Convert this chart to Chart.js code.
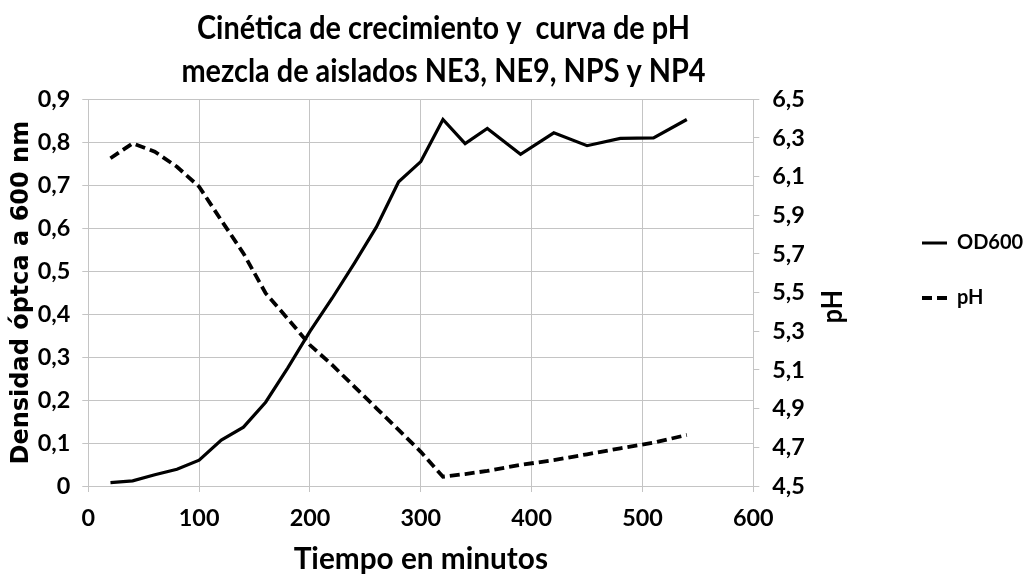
<!DOCTYPE html>
<html>
<head>
<meta charset="utf-8">
<script src="https://cdn.jsdelivr.net/npm/chart.js@4.4.1/dist/chart.umd.min.js"></script>
<style>
  html, body { margin: 0; padding: 0; background: #fff; }
  #wrap { position: relative; width: 1023px; height: 577px; }
</style>
</head>
<body>
<div id="wrap"><canvas id="c"></canvas></div>
<script>
// ---- data ----
const titleLines = ['Cinética de crecimiento y  curva de pH', 'mezcla de aislados NE3, NE9, NPS y NP4'];
const xAxisTitle = 'Tiempo en minutos';
const yAxisTitle = 'Densidad óptca a 600 nm';
const y1AxisTitle = 'pH';
const seriesNames = ['OD600', 'pH'];
const timeMin = [20, 40, 60, 80, 100, 120, 140, 160, 180, 200, 220, 240, 260, 280, 300, 320, 340, 360, 390, 420, 450, 480, 510, 540];
const od600 = [0.008, 0.012, 0.026, 0.039, 0.06, 0.107, 0.137, 0.195, 0.275, 0.36, 0.437, 0.518, 0.603, 0.708, 0.755, 0.853, 0.797, 0.832, 0.772, 0.822, 0.792, 0.809, 0.81, 0.853];
const phValues = [6.195, 6.272, 6.229, 6.151, 6.048, 5.874, 5.703, 5.497, 5.365, 5.229, 5.126, 5.014, 4.902, 4.79, 4.677, 4.548, 4.562, 4.578, 4.609, 4.634, 4.664, 4.695, 4.724, 4.764];
const xTicks = { min: 0, max: 600, step: 100 };
const yTicks = { min: 0, max: 0.9, step: 0.1 };
const y1Ticks = { min: 4.5, max: 6.5, step: 0.2 };

// ---- styling ----
const FONT = "Lato, 'Liberation Sans', sans-serif";
const WIDE = "'DejaVu Sans', 'Liberation Sans', sans-serif";
const GRID = '#c4c4c4';
const CHART_RIGHT = 753.3;
const LEGEND_X = 922;
const CAP = 0.7165; // Lato cap-height ratio

const mctx = document.createElement('canvas').getContext('2d');
function textW(text, family, size) {
  mctx.font = 'bold ' + size + 'px ' + family;
  return mctx.measureText(text).width;
}
// blend between matching the reference width and the reference cap height
function fitSize(text, targetW, targetCap, wHeight) {
  const sW = 100 * targetW / textW(text, FONT, 100);
  const sH = targetCap / CAP;
  return Math.pow(sW, 1 - wHeight) * Math.pow(sH, wHeight);
}
const tickPx = (fitSize('600', 32, 17.5, 0.85) + fitSize('0,9', 29.5, 17, 0.85)) / 2;
const xTitlePx = fitSize(xAxisTitle, 213, 23, 0.7);
const legendPx = 20;
const legendPad = 55 - legendPx;

const comma = (v, keepZero) => (v === 0 && !keepZero) ? '0' : v.toFixed(1).replace('.', ',');

const textPlugin = {
  id: 'textPlugin',
  afterDraw(chart) {
    const ctx = chart.ctx;
    ctx.save();
    ctx.fillStyle = '#000';
    ctx.textAlign = 'center';
    ctx.textBaseline = 'alphabetic';
    const tPx = 32;
    ctx.font = 'bold ' + tPx + 'px ' + FONT;
    const sx = 493 / ctx.measureText(titleLines[0]).width;
    [[titleLines[0], 38.5], [titleLines[1], 81.5]].forEach(([t, y]) => {
      ctx.save();
      ctx.translate(443.5, y);
      ctx.scale(sx, 1);
      ctx.fillText(t, 0, 0);
      ctx.restore();
    });
    const s = chart.scales.y1;
    const pPx = 29;
    ctx.font = 'bold ' + pPx + 'px ' + FONT;
    const pl = 33 / ctx.measureText(y1AxisTitle).width;
    ctx.translate(s.left + 79, (chart.chartArea.top + chart.chartArea.bottom) / 2 + 14);
    ctx.rotate(-Math.PI / 2);
    ctx.scale(pl, 1);
    ctx.textBaseline = 'middle';
    ctx.fillText(y1AxisTitle, 0, 0);
    ctx.restore();
  }
};

new Chart(document.getElementById('c'), {
  type: 'line',
  data: {
    datasets: [
      {
        label: seriesNames[0],
        data: timeMin.map((t, i) => ({ x: t, y: od600[i] })),
        yAxisID: 'y',
        borderColor: '#000',
        backgroundColor: '#000',
        borderWidth: 3.2,
        pointRadius: 0,
        tension: 0,
        fill: false
      },
      {
        label: seriesNames[1],
        data: timeMin.map((t, i) => ({ x: t, y: phValues[i] })),
        yAxisID: 'y1',
        borderColor: '#000',
        backgroundColor: '#000',
        borderWidth: 3.8,
        borderDash: [10, 5],
        pointRadius: 0,
        tension: 0,
        fill: false
      }
    ]
  },
  options: {
    responsive: true,
    maintainAspectRatio: false,
    animation: false,
    layout: { padding: { top: 99.3, left: 0, right: 0, bottom: 0 } },
    plugins: {
      title: { display: false },
      tooltip: { enabled: false },
      legend: {
        display: true,
        position: 'right',
        align: 'start',
        maxWidth: 1023 - LEGEND_X + legendPad,
        title: { display: true, text: '', padding: { top: 129.3 - legendPad - legendPx / 2, bottom: 0 } },
        labels: {
          usePointStyle: true,
          pointStyle: 'line',
          pointStyleWidth: 25,
          padding: legendPad,
          color: '#000',
          font: { family: FONT, size: legendPx, weight: 'bold' },
          generateLabels: chart => {
            const items = Chart.defaults.plugins.legend.labels.generateLabels(chart);
            items.forEach(it => {
              const ds = chart.data.datasets[it.datasetIndex];
              it.lineDash = ds.borderDash || [];
              it.lineWidth = ds.borderWidth;
              it.strokeStyle = ds.borderColor;
            });
            return items;
          }
        }
      }
    },
    scales: {
      x: {
        type: 'linear',
        position: 'bottom',
        min: xTicks.min,
        max: xTicks.max,
        afterFit: s => { s.height = 91; },
        ticks: {
          stepSize: xTicks.step,
          color: '#000',
          padding: 26 - 0.6 * tickPx,
          font: { family: FONT, size: tickPx, weight: 'bold' }
        },
        grid: { color: GRID, lineWidth: 1, tickLength: 6, drawTicks: true },
        border: { display: false },
        title: {
          display: true,
          text: xAxisTitle,
          color: '#000',
          padding: { top: 0, bottom: Math.max(0, 17.5 - 0.6 * xTitlePx) },
          font: { family: FONT, size: xTitlePx, weight: 'bold' }
        }
      },
      y: {
        type: 'linear',
        position: 'left',
        min: yTicks.min,
        max: yTicks.max,
        afterFit: s => { s.width = 88.3; },
        ticks: {
          stepSize: yTicks.step,
          color: '#000',
          padding: 12,
          font: { family: FONT, size: tickPx, weight: 'bold' },
          callback: v => comma(v, false)
        },
        grid: { color: GRID, lineWidth: 1, tickLength: 6 },
        border: { display: false },
        title: {
          display: true,
          text: yAxisTitle,
          color: '#000',
          padding: { top: 7.6, bottom: 0 },
          font: { family: WIDE, size: 24, weight: 'bold' }
        }
      },
      y1: {
        type: 'linear',
        position: 'right',
        min: y1Ticks.min,
        max: y1Ticks.max,
        afterFit: s => { s.width = s.chart.width - (s.chart.legend ? s.chart.legend.width : 136) - CHART_RIGHT; },
        ticks: {
          stepSize: y1Ticks.step,
          color: '#000',
          padding: 13,
          font: { family: FONT, size: tickPx, weight: 'bold' },
          callback: v => comma(v, true)
        },
        grid: { drawOnChartArea: false, color: GRID, lineWidth: 1, tickLength: 6 },
        border: { display: true, color: GRID, width: 1 }
      }
    }
  },
  plugins: [textPlugin]
});
</script>
</body>
</html>
